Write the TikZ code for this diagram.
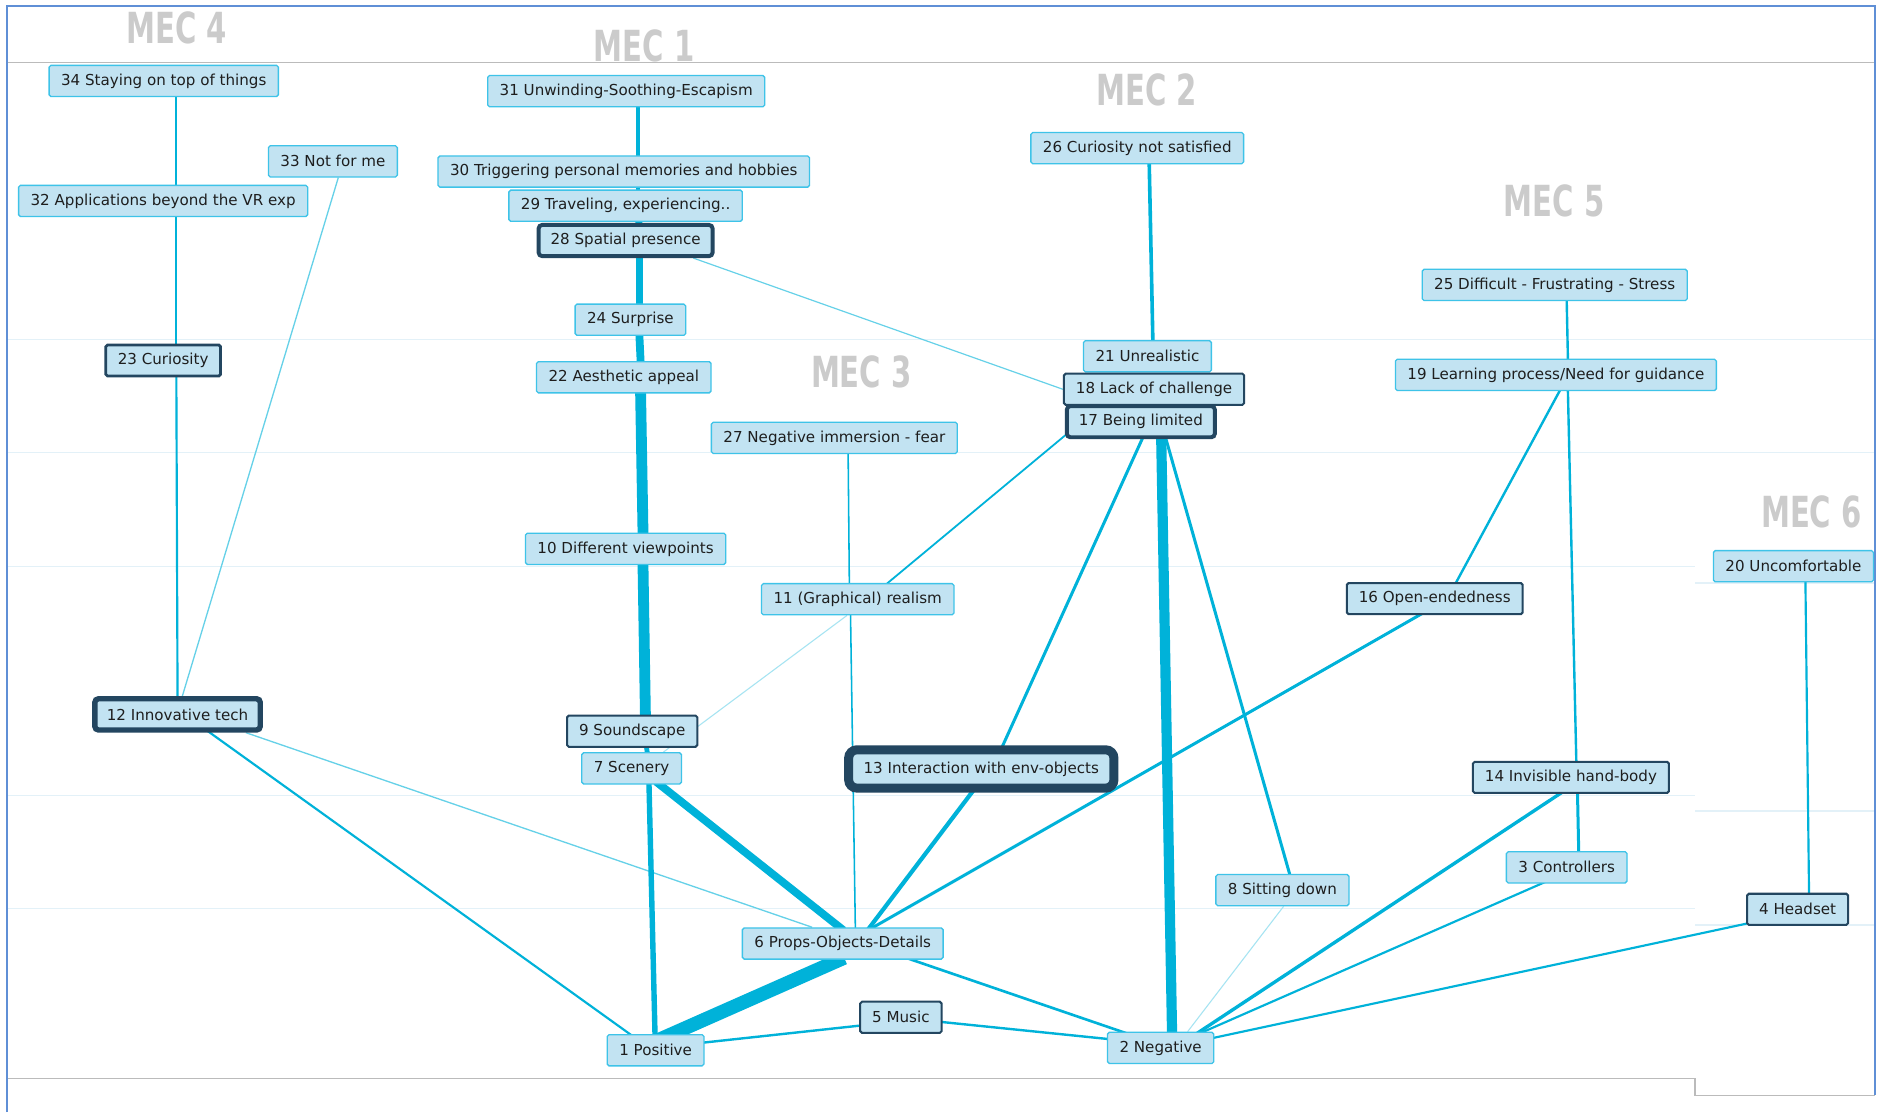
\documentclass[tikz,border=0pt]{standalone}
\usepackage{fontspec}
\usepackage{graphicx}
\setmainfont{DejaVu Sans}
\usetikzlibrary{backgrounds}
\definecolor{boxfill}{HTML}{C2E3F2}
\definecolor{boxline}{HTML}{3EC3E8}
\definecolor{keyline}{HTML}{234660}
\definecolor{tiecol}{HTML}{00B2D9}
\definecolor{guidecol}{HTML}{E3F1F8}
\definecolor{rulecol}{HTML}{BBBBBB}
\definecolor{framecol}{HTML}{5F8FD6}
\definecolor{meccol}{HTML}{CBCBCB}
\definecolor{textcol}{HTML}{1E1E1E}
\tikzset{concept/.style={rectangle, rounded corners=1.5pt, fill=boxfill, draw=boxline, line width=1.1pt, inner xsep=10pt, inner ysep=0pt, minimum height=26pt, text=textcol, font=\fontsize{12.6}{14}\selectfont}}
\tikzset{keyA/.style={concept, draw=keyline, line width=1.7pt}}
\tikzset{keyB/.style={concept, draw=keyline, line width=2.3pt}}
\tikzset{keyC/.style={concept, draw=keyline, line width=3.3pt, rounded corners=3pt}}
\tikzset{keyD/.style={concept, draw=keyline, line width=7.5pt, rounded corners=7pt, inner xsep=12.5pt, minimum height=32pt}}
\tikzset{tie/.style={draw=tiecol, line width=#1, shorten <=-4pt, shorten >=-4pt}}
\tikzset{faint/.style={draw=tiecol!60, line width=#1}}
\tikzset{fainter/.style={draw=tiecol!35, line width=#1}}
\tikzset{guide/.style={draw=guidecol, line width=1pt}}
\tikzset{mec/.style={text=meccol, font=\fontsize{35.7}{36}\selectfont\bfseries}}

\begin{document}
\begin{tikzpicture}[x=1pt, y=-1pt]
  \useasboundingbox (0,0) rectangle (1568,927);
  \begin{scope}[on background layer]
    \fill[white] (0,0) rectangle (1568,927);
    % Level lines
    \foreach \y in {283,377}
      \draw[guide] (7,\y) -- (1563,\y);
    \foreach \y/\yy in {472/486, 663/676, 757/771}
      \draw[guide] (7,\y) -- (1413,\y) (1413,\yy) -- (1563,\yy);
    \draw[rulecol, line width=1.2pt] (7,52) -- (1563,52);
    \draw[rulecol, line width=1.2pt] (7,899) -- (1413,899) -- (1413,913) -- (1563,913);
    \draw[framecol, line width=1.6pt] (6,927) -- (6,5) -- (1563,5) -- (1563,913);
    % Chain titles
    \foreach \name/\pos in {4/{(147.5,23)}, 1/{(537,38)}, 2/{(956,75)}, 5/{(1295.5,167.5)}, 3/{(718,310)}, 6/{(1510,427)}}
      \node[mec] (mec\name) at \pos {\scalebox{0.68}[1]{MEC \name}};
  \end{scope}

  % Values
  \node[concept, minimum width=191pt] (n34) at (136.5,67.5) {34 Staying on top of things};
  \node[concept] (n31) at (522,76) {31 Unwinding-Soothing-Escapism};
  \node[concept] (n33) at (277.5,134.5) {33 Not for me};
  \node[concept] (n30) at (520,143) {30 Triggering personal memories and hobbies};
  \node[concept] (n32) at (136,167.5) {32 Applications beyond the VR exp};
  \node[concept] (n29) at (521.5,171.5) {29 Traveling, experiencing..};
  \node[keyC] (n28) at (521.5,200.5) {28 Spatial presence};
  \node[concept] (n26) at (948,123.5) {26 Curiosity not satisfied};
  \node[concept] (n25) at (1296,237.5) {25 Difficult - Frustrating - Stress};
  % Consequences
  \node[concept] (n24) at (525.5,266.5) {24 Surprise};
  \node[keyB] (n23) at (136,300.5) {23 Curiosity};
  \node[concept] (n22) at (520,314.5) {22 Aesthetic appeal};
  \node[concept] (n21) at (956.5,297) {21 Unrealistic};
  \node[keyA] (n18) at (962,324.5) {18 Lack of challenge};
  \node[keyC] (n17) at (951,351.5) {17 Being limited};
  \node[concept] (n19) at (1297,312.5) {19 Learning process/Need for guidance};
  \node[concept] (n27) at (695.5,365) {27 Negative immersion - fear};
  \node[concept] (n10) at (521.5,457.5) {10 Different viewpoints};
  \node[concept] (n11) at (715,499.5) {11 (Graphical) realism};
  \node[keyA] (n16) at (1196,499) {16 Open-endedness};
  \node[concept] (n20) at (1495,472) {20 Uncomfortable};
  % Attributes
  \node[keyC, line width=4.5pt] (n12) at (148,595.5) {12 Innovative tech};
  \node[keyA] (n9) at (527,609.5) {9 Soundscape};
  \node[concept] (n7) at (526.5,640.5) {7 Scenery};
  \node[keyD] (n13) at (818,641) {13 Interaction with env-objects};
  \node[keyA] (n14) at (1309.5,648) {14 Invisible hand-body};
  \node[concept] (n3) at (1306,723) {3 Controllers};
  \node[concept] (n8) at (1069,742) {8 Sitting down};
  \node[keyA] (n4) at (1498.5,758) {4 Headset};
  \node[concept] (n6) at (702.5,786.5) {6 Props-Objects-Details};
  \node[keyA] (n5) at (751,848) {5 Music};
  \node[concept] (n1) at (546.5,875.5) {1 Positive};
  \node[concept] (n2) at (967.5,873.5) {2 Negative};

  \begin{scope}[on background layer]
    % MEC 4
    \draw[tie=1.8pt] ([xshift=10.5pt]n34.south) -- ([xshift=11pt]n32.north);
    \draw[tie=1.8pt] ([xshift=11pt]n32.south) -- ([xshift=11pt]n23.north);
    \draw[tie=1.8pt] ([xshift=11pt]n23.south) -- (n12.north);
    \draw[faint=1.1pt] ([xshift=4.5pt]n33.south) -- ([xshift=4pt]n12.north);
    \draw[tie=1.8pt] ([xshift=27pt]n12.south) -- ([xshift=-21.5pt]n1.north);
    \draw[faint=1.1pt] ([xshift=57pt]n12.south) -- ([xshift=-25.5pt]n6.north);
    % MEC 1
    \draw[tie=3.5pt] ([xshift=10pt]n31.south) -- ([xshift=12pt]n30.north);
    \draw[tie=3.5pt] ([xshift=12pt]n30.south) -- ([xshift=10.5pt]n29.north);
    \draw[tie=3.5pt] ([xshift=10.5pt]n29.south) -- ([xshift=11.5pt]n28.north);
    \draw[tie=5.5pt] ([xshift=11.5pt]n28.south) -- ([xshift=7.5pt]n24.north);
    \draw[tie=6.5pt] ([xshift=7.5pt]n24.south) -- ([xshift=14pt]n22.north);
    \draw[tie=9pt] ([xshift=14pt]n22.south) -- ([xshift=14.5pt]n10.north);
    \draw[tie=9pt] ([xshift=14.5pt]n10.south) -- ([xshift=11pt]n9.north);
    \draw[tie=4pt] ([xshift=12pt]n9.south) -- ([xshift=13pt]n7.north);
    \draw[tie=4.5pt] ([xshift=14.5pt]n7.south) -- ([xshift=-0.5pt]n1.north);
    \draw[tie=6.5pt] ([xshift=23.5pt]n7.south) -- ([xshift=-2.5pt]n6.north);
    \draw[tie=11.5pt, shorten >=-14pt] ([xshift=-2.5pt]n6.south) -- ([xshift=13.5pt]n1.north);
    % MEC 3
    \draw[fainter=0.9pt] ([xshift=-9pt]n11.south) -- ([xshift=26.5pt]n7.north);
    \draw[tie=1.3pt] ([xshift=11.5pt]n27.south) -- ([xshift=-7pt]n11.north);
    \draw[tie=1.3pt] ([xshift=-6pt]n11.south) -- ([xshift=10.5pt]n6.north);
    \draw[tie=1.5pt] ([yshift=3pt]n17.south west) -- ([xshift=25pt]n11.north);
    \draw[tie=3.5pt] ([xshift=-8pt]n13.south) -- ([xshift=22.5pt]n6.north);
    \draw[tie=2.5pt] ([xshift=-13pt]n16.south) -- ([xshift=25.5pt]n6.north);
    % MEC 2
    \draw[faint=1pt] ([xshift=56.5pt]n28.south) -- (n18.west);
    \draw[tie=2.5pt] ([xshift=1pt]n17.south) -- ([xshift=18pt]n13.north);
    \draw[tie=3pt] ([xshift=10pt]n26.south) -- ([xshift=4.5pt]n21.north);
    \draw[tie=8.5pt] ([xshift=17pt]n17.south) -- ([xshift=9.5pt]n2.north);
    \draw[tie=2.5pt] ([xshift=21pt]n17.south) -- ([xshift=6pt]n8.north);
    \draw[fainter=0.9pt] ([xshift=1pt]n8.south) -- ([xshift=22.5pt]n2.north);
    % MEC 5
    \draw[tie=2pt] ([xshift=10pt]n25.south) -- ([xshift=10pt]n19.north);
    \draw[tie=2pt] ([xshift=3pt]n19.south) -- ([xshift=18pt]n16.north);
    \draw[tie=2pt] ([xshift=10pt]n19.south) -- ([xshift=4.5pt]n14.north);
    \draw[tie=2.5pt] ([xshift=5.5pt]n14.south) -- ([xshift=10pt]n3.north);
    \draw[tie=2.8pt] ([xshift=-9.5pt]n14.south) -- ([xshift=32.5pt]n2.north);
    \draw[tie=1.8pt] ([xshift=-21pt]n3.south) -- ([xshift=36pt]n2.north);
    % MEC 6
    \draw[tie=1.8pt] ([xshift=10pt]n20.south) -- ([xshift=9.5pt]n4.north);
    \draw[tie=1.8pt] ([yshift=-12pt]n4.west) -- ([yshift=8.5pt]n2.east);
    % Bottom row
    \draw[tie=2.2pt] ([xshift=57.5pt]n6.south) -- ([xshift=-32.5pt]n2.north);
    \draw[tie=2pt] ([yshift=6.5pt]n1.east) -- ([yshift=-7pt]n5.west);
    \draw[tie=2pt] ([yshift=-4pt]n5.east) -- ([yshift=7.5pt]n2.west);
  \end{scope}
\end{tikzpicture}
\end{document}
